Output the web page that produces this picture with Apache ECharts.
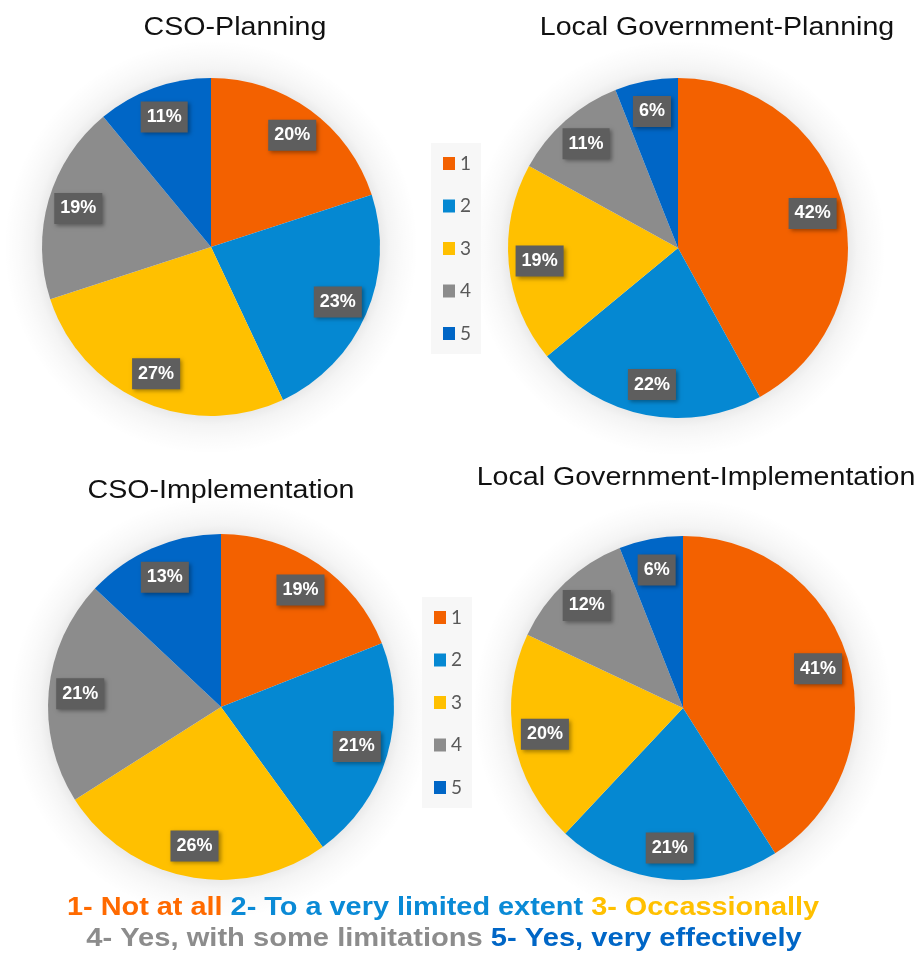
<!DOCTYPE html>
<html>
<head>
<meta charset="utf-8">
<script src="https://cdn.jsdelivr.net/npm/echarts@6/dist/echarts.min.js"></script>
<style>html,body{margin:0;padding:0;background:#fff}#c{width:919px;height:953px}</style>
</head>
<body>
<div id="c"></div>
<script>
const categories = ['1', '2', '3', '4', '5'];
const colors = ['#F36100', '#0588D2', '#FFC000', '#8C8C8C', '#0066C6'];
const csoPlanning = [20, 23, 27, 19, 11];
const lgPlanning = [42, 22, 19, 11, 6];
const csoImplementation = [19, 21, 26, 21, 13];
const lgImplementation = [41, 21, 20, 12, 6];
const chartTitles = ['CSO-Planning', 'Local Government-Planning', 'CSO-Implementation', 'Local Government-Implementation'];
const captionLine1 = [['o', '1- Not at all'], ['b', '2- To a very limited extent'], ['y', '3- Occassionally']];
const captionLine2 = [['g', '4- Yes, with some limitations'], ['d', '5- Yes, very effectively']];

const pies = [
  { values: csoPlanning, center: [211, 247], r: 169, title: [235, 28] },
  { values: lgPlanning, center: [678, 248], r: 170, title: [717, 28] },
  { values: csoImplementation, center: [221, 707], r: 173, title: [221, 491] },
  { values: lgImplementation, center: [683, 708], r: 172, title: [696, 478] }
];

const series = [];
pies.forEach((p, i) => {
  const outer = p.r + 38;
  const inner = p.r - 2;
  series.push({
    type: 'pie', name: 'halo' + i, center: p.center, radius: [inner, outer], silent: true,
    label: { show: false }, labelLine: { show: false }, z: 1,
    itemStyle: {
      color: {
        type: 'radial', x: 0.5, y: 0.5, r: 0.5,
        colorStops: [
          { offset: 0, color: 'rgba(0,0,0,0.08)' },
          { offset: (p.r + 1) / outer, color: 'rgba(0,0,0,0.08)' },
          { offset: (p.r + 9) / outer, color: 'rgba(0,0,0,0.045)' },
          { offset: (p.r + 22) / outer, color: 'rgba(0,0,0,0.018)' },
          { offset: 1, color: 'rgba(0,0,0,0)' }
        ]
      }
    },
    data: [{ name: 'halo', value: 1 }]
  });
});
pies.forEach((p, i) => {
  series.push({
    type: 'pie', name: chartTitles[i], center: p.center, radius: [0, p.r], startAngle: 90, clockwise: true,
    label: { show: false }, labelLine: { show: false }, z: 2,
    emphasis: { scale: false },
    data: categories.map((c, k) => ({ name: c, value: p.values[k], itemStyle: { color: colors[k] } }))
  });
});
pies.forEach((p, i) => {
  series.push({
    type: 'pie', name: chartTitles[i] + ' labels', center: p.center, radius: [p.r * 0.6, p.r], startAngle: 90, clockwise: true,
    silent: true, z: 3,
    itemStyle: { color: 'rgba(0,0,0,0)' },
    labelLine: { show: false },
    label: {
      show: true, position: 'inside', formatter: '{c}%',
      color: '#ffffff', fontFamily: 'Liberation Sans', fontWeight: 'bold', fontSize: 18, lineHeight: 18,
      backgroundColor: '#5E5E5E', padding: [7, 6, 6, 6],
      shadowColor: 'rgba(0,0,0,0.35)', shadowBlur: 4, shadowOffsetX: 2, shadowOffsetY: 2
    },
    data: categories.map((c, k) => ({ name: c, value: p.values[k] }))
  });
});

function legend(left, top) {
  return {
    orient: 'vertical', left: left, top: top, icon: 'rect', itemWidth: 12, itemHeight: 13, itemGap: 23.5,
    padding: [11, 10, 11, 12], backgroundColor: '#F7F7F7', selectedMode: false,
    textStyle: { fontFamily: 'Lato', fontSize: 19, color: '#595959' },
    data: categories.map((c, k) => ({ name: c, itemStyle: { color: colors[k] } }))
  };
}

const capColors = { o: '#FF6A00', b: '#0A8AD6', y: '#FFC000', g: '#8C8C8C', d: '#0066C6' };
const rich = {};
Object.keys(capColors).forEach(k => {
  rich[k] = { fill: capColors[k], color: capColors[k], fontFamily: 'Liberation Sans', fontWeight: 'bold', fontSize: 25 };
});
rich.s = { fontFamily: 'Liberation Sans', fontWeight: 'bold', fontSize: 25 };
function capText(parts) { return parts.map(p => '{' + p[0] + '|' + p[1] + '}').join('{s| }'); }

const graphic = pies.map((p, i) => ({
  type: 'text', x: p.title[0], y: p.title[1], z: 10, scaleX: 1.1,
  style: { text: chartTitles[i], fontFamily: 'Liberation Sans', fontSize: 26, fill: '#111111',
           align: 'center', verticalAlign: 'middle', textAlign: 'center', textVerticalAlign: 'middle' }
}));
graphic.push({ type: 'text', x: 443, y: 908, z: 10, scaleX: 1.155,
  style: { text: capText(captionLine1), rich: rich, align: 'center', verticalAlign: 'middle', textAlign: 'center', textVerticalAlign: 'middle' } });
graphic.push({ type: 'text', x: 444, y: 939, z: 10, scaleX: 1.165,
  style: { text: capText(captionLine2), rich: rich, align: 'center', verticalAlign: 'middle', textAlign: 'center', textVerticalAlign: 'middle' } });

const chart = echarts.init(document.getElementById('c'), null, { renderer: 'canvas' });
chart.setOption({
  animation: false,
  backgroundColor: '#ffffff',
  legend: [legend(431, 143), legend(422, 597)],
  series: series,
  graphic: graphic
});
</script>
</body>
</html>
